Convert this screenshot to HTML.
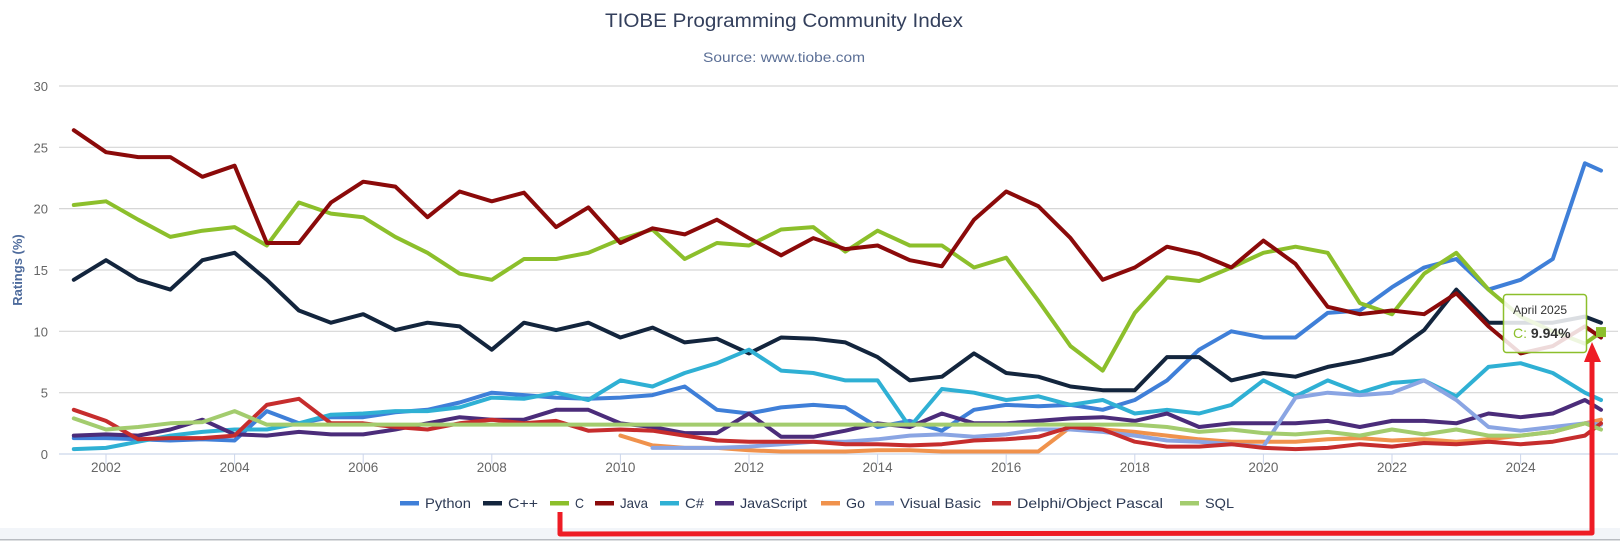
<!DOCTYPE html>
<html><head><meta charset="utf-8">
<style>
html,body{margin:0;padding:0;background:#fff;}
body{width:1620px;height:542px;overflow:hidden;position:relative;font-family:"Liberation Sans",sans-serif;}
svg{position:absolute;left:0;top:0;}
</style></head>
<body>
<svg id="chart" width="1620" height="542" viewBox="0 0 1620 542" xmlns="http://www.w3.org/2000/svg">
  <rect x="0" y="528" width="1620" height="11" fill="#f2f5f9"/>
  <rect x="0" y="539" width="1620" height="1.5" fill="#b8bcc2"/>
  <text x="605" y="27" font-size="19" fill="#333f5c" textLength="358" lengthAdjust="spacingAndGlyphs">TIOBE Programming Community Index</text>
  <text x="703" y="62" font-size="13.5" fill="#5b6f96" textLength="162" lengthAdjust="spacingAndGlyphs">Source: www.tiobe.com</text>
  <text transform="translate(22,270) rotate(-90)" text-anchor="middle" font-size="13" font-weight="bold" fill="#4e6b9c">Ratings (%)</text>
  <g id="grid"></g>
  <g id="series"></g>
  <g id="legend"></g>
  <g id="tooltip">
    <rect x="1503.5" y="294.5" width="83" height="58" rx="3" fill="rgba(255,255,255,0.85)" stroke="#8cbf2b" stroke-width="1.5"/>
    <text x="1513" y="314" font-size="12" fill="#333">April 2025</text>
    <text x="1513" y="338" font-size="14" fill="#333"><tspan fill="#8cbf2b">C:</tspan> <tspan font-weight="bold">9.94%</tspan></text>
  </g>
  <g id="marker"></g>
  <g fill="none" stroke="#ee1c25" stroke-width="5" stroke-linejoin="round">
    <polyline points="560,512 560,534 1592,533 1592,360"/>
  </g>
  <polygon points="1592,342 1584,362 1601,362" fill="#ee1c25"/>
</svg>
<script>
const dates = [2001.5,2002,2002.5,2003,2003.5,2004,2004.5,2005,2005.5,2006,2006.5,2007,2007.5,2008,2008.5,2009,2009.5,2010,2010.5,2011,2011.5,2012,2012.5,2013,2013.5,2014,2014.5,2015,2015.5,2016,2016.5,2017,2017.5,2018,2018.5,2019,2019.5,2020,2020.5,2021,2021.5,2022,2022.5,2023,2023.5,2024,2024.5,2025,2025.25];
const seriesNames = ["Python","C++","C","Java","C#","JavaScript","Go","Visual Basic","Delphi/Object Pascal","SQL"];
const python = [1.3,1.3,1.2,1.1,1.2,1.1,3.5,2.5,3.0,3.0,3.4,3.6,4.2,5.0,4.8,4.6,4.5,4.6,4.8,5.5,3.6,3.3,3.8,4.0,3.8,2.2,2.7,1.9,3.6,4.0,3.9,4.0,3.6,4.4,6.0,8.5,10.0,9.5,9.5,11.5,11.7,13.6,15.2,15.9,13.4,14.2,15.9,23.7,23.1];
const cpp = [14.2,15.8,14.2,13.4,15.8,16.4,14.2,11.7,10.7,11.4,10.1,10.7,10.4,8.5,10.7,10.1,10.7,9.5,10.3,9.1,9.4,8.2,9.5,9.4,9.1,7.9,6.0,6.3,8.2,6.6,6.3,5.5,5.2,5.2,7.9,7.9,6.0,6.6,6.3,7.1,7.6,8.2,10.1,13.4,10.7,10.7,10.7,11.2,10.7];
const cLang = [20.3,20.6,19.1,17.7,18.2,18.5,17.0,20.5,19.6,19.3,17.7,16.4,14.7,14.2,15.9,15.9,16.4,17.5,18.3,15.9,17.2,17.0,18.3,18.5,16.5,18.2,17.0,17.0,15.2,16.0,12.5,8.8,6.8,11.5,14.4,14.1,15.2,16.4,16.9,16.4,12.3,11.4,14.7,16.4,13.4,11.2,10.0,9.0,9.94];
const java = [26.4,24.6,24.2,24.2,22.6,23.5,17.2,17.2,20.5,22.2,21.8,19.3,21.4,20.6,21.3,18.5,20.1,17.2,18.4,17.9,19.1,17.6,16.2,17.6,16.7,17.0,15.8,15.3,19.1,21.4,20.2,17.6,14.2,15.2,16.9,16.3,15.2,17.4,15.5,12.0,11.4,11.7,11.4,13.1,10.4,8.2,8.8,10.4,9.5];
const csharp = [0.4,0.5,1.0,1.5,1.8,2.0,2.0,2.5,3.2,3.3,3.5,3.5,3.8,4.6,4.5,5.0,4.4,6.0,5.5,6.6,7.4,8.5,6.8,6.6,6.0,6.0,2.2,5.3,5.0,4.4,4.7,4.0,4.4,3.3,3.6,3.3,4.0,6.0,4.7,6.0,5.0,5.8,6.0,4.7,7.1,7.4,6.6,5.0,4.4];
const javascript = [1.5,1.6,1.5,2.0,2.8,1.6,1.5,1.8,1.6,1.6,2.0,2.5,3.0,2.8,2.8,3.6,3.6,2.5,2.2,1.7,1.7,3.3,1.4,1.4,1.9,2.5,2.2,3.3,2.5,2.5,2.7,2.9,3.0,2.7,3.3,2.2,2.5,2.5,2.5,2.7,2.2,2.7,2.7,2.5,3.3,3.0,3.3,4.4,3.6];
const goLang = [null,null,null,null,null,null,null,null,null,null,null,null,null,null,null,null,null,1.5,0.7,0.5,0.5,0.3,0.2,0.2,0.2,0.3,0.3,0.2,0.2,0.2,0.2,2.2,2.0,1.8,1.5,1.2,1.0,1.0,1.0,1.2,1.3,1.1,1.2,1.0,1.2,1.5,1.8,2.5,2.8];
const visualBasic = [null,null,null,null,null,null,null,null,null,null,null,null,null,null,null,null,null,null,0.5,0.5,0.5,0.6,0.8,1.0,1.0,1.2,1.5,1.6,1.4,1.6,2.0,2.0,1.8,1.5,1.1,1.0,0.8,0.6,4.6,5.0,4.8,5.0,6.0,4.4,2.2,1.9,2.2,2.5,2.4];
const delphi = [3.6,2.7,1.2,1.3,1.3,1.5,4.0,4.5,2.5,2.5,2.2,2.0,2.5,2.8,2.5,2.7,1.9,2.0,1.9,1.5,1.1,1.0,1.0,1.0,0.8,0.8,0.7,0.8,1.1,1.2,1.4,2.2,2.0,1.0,0.6,0.6,0.8,0.5,0.4,0.5,0.8,0.6,0.9,0.8,1.0,0.8,1.0,1.5,2.5];
const sql = [2.9,2.0,2.2,2.5,2.6,3.5,2.4,2.4,2.4,2.4,2.4,2.4,2.4,2.4,2.4,2.4,2.4,2.4,2.4,2.4,2.4,2.4,2.4,2.4,2.4,2.4,2.4,2.4,2.4,2.4,2.4,2.4,2.4,2.4,2.2,1.8,2.0,1.7,1.6,1.8,1.5,2.0,1.6,2.0,1.5,1.5,1.8,2.5,2.0];
const yTicks = [0,5,10,15,20,25,30];
const xTicks = [2002,2004,2006,2008,2010,2012,2014,2016,2018,2020,2022,2024];
const tooltipValue = 9.94;

const NS = "http://www.w3.org/2000/svg";
const colors = ["#3f7fd8","#13253d","#8cbf2b","#8b0a0a","#2fb0d4","#4b2c7a","#f0924c","#8aa5e3","#c62d2d","#a3cc6e"];
const allSeries = [python,cpp,cLang,java,csharp,javascript,goLang,visualBasic,delphi,sql];
const slugs = ["python","cpp","c","java","csharp","javascript","go","visual-basic","delphi","sql"];
function xScale(t){ return 106 + (t - 2002) * 64.3; }
function yScale(v){ return 454 - v * 12.267; }
function mk(tag, attrs){ const e = document.createElementNS(NS, tag); for (const k in attrs) e.setAttribute(k, attrs[k]); return e; }

const grid = document.getElementById('grid');
yTicks.forEach(v => {
  const y = yScale(v);
  const ln = mk('line', {x1:59, x2:1618, y1:y, y2:y, stroke: v===0 ? '#ccd6eb' : '#d6d6d6', 'stroke-width': 1.2});
  
  
  grid.appendChild(ln);
  const tx = mk('text', {x:48, y:y+5, 'text-anchor':'end', 'font-size':13, fill:'#666'});
  tx.textContent = v;
  
  
  grid.appendChild(tx);
});
xTicks.forEach(t => {
  const x = xScale(t);
  const tk = mk('line', {x1:x, x2:x, y1:454, y2:464, stroke:'#ccd6eb', 'stroke-width':1});
  
  
  grid.appendChild(tk);
  const tx = mk('text', {x:x, y:472, 'text-anchor':'middle', 'font-size':13.5, fill:'#666'});
  tx.textContent = t;
  
  
  grid.appendChild(tx);
});

const sg = document.getElementById('series');
allSeries.forEach((vals, si) => {
  let d = '', pen = false;
  vals.forEach((v, i) => {
    if (v === null) { pen = false; return; }
    d += (pen ? 'L' : 'M') + xScale(dates[i]).toFixed(1) + ',' + yScale(v).toFixed(1);
    pen = true;
  });
  const p = mk('path', {d:d, fill:'none', stroke:colors[si], 'stroke-width':4, 'stroke-linejoin':'round', 'stroke-linecap':'round'});
  
  
  sg.appendChild(p);
});

const mg = document.getElementById('marker');
const mx = xScale(dates[dates.length-1]), my = yScale(tooltipValue);
const mrk = mk('rect', {x:mx-5, y:my-5, width:10, height:10, fill:'#8cbf2b'});


mg.appendChild(mrk);

const legendX = [400,483,550,595,660,715,821,875,992,1180];
const legendW = [46,30,9,28,19,67,19,81,146,29];
const lg = document.getElementById('legend');
seriesNames.forEach((n, i) => {
  const g = mk('g', {});
  
  
  const r = mk('rect', {x:legendX[i], y:501, width:19, height:4.5, fill:colors[i]});
  g.appendChild(r);
  const t = mk('text', {x:legendX[i]+25, y:508, 'font-size':14, fill:'#2d3a54', textLength:legendW[i], lengthAdjust:'spacingAndGlyphs'});
  t.textContent = n;
  g.appendChild(t);
  lg.appendChild(g);
});
</script>
</body></html>
